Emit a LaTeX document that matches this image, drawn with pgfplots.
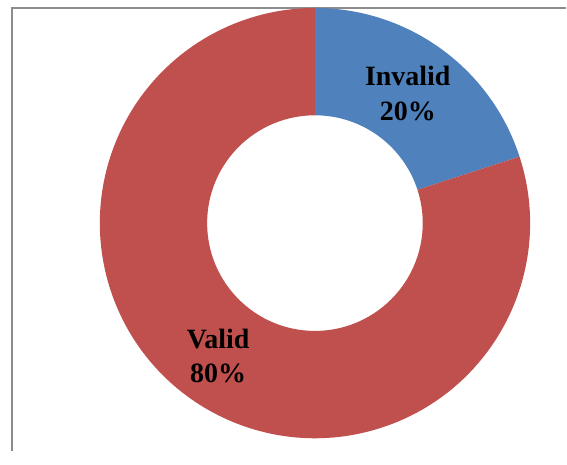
\documentclass[border=0pt]{standalone}
\usepackage{pgfplots}
\pgfplotsset{compat=1.18}
\usepackage{pgfplotstable}
\usepackage{fontspec}
\setmainfont{Liberation Serif}
\definecolor{invblue}{HTML}{4F81BD}
\definecolor{valred}{HTML}{C0504D}
\definecolor{framegray}{HTML}{8C8C8C}
\pgfplotstableread{
label value
Invalid 20
Valid 80
}\donutdata

\begin{document}
\begin{tikzpicture}
\pgfplotstablegetelem{0}{value}\of\donutdata \pgfmathsetmacro{\vA}{\pgfplotsretval}
\pgfplotstablegetelem{1}{value}\of\donutdata \pgfmathsetmacro{\vB}{\pgfplotsretval}
\pgfmathsetmacro{\tot}{\vA+\vB}
\pgfmathsetmacro{\aA}{90-\vA/\tot*360}
\pgfmathsetmacro{\aB}{\aA-\vB/\tot*360}
\begin{axis}[scale only axis, width=567pt, height=452pt,
  xmin=0, xmax=567, ymin=0, ymax=452, hide axis, clip=false]
\path (axis cs:0,0) rectangle (axis cs:567,452);
\draw[framegray, line width=2pt] (axis cs:11.7,0) -- (axis cs:11.7,444.3) -- (axis cs:567,444.3);
\begin{scope}[shift={(axis cs:315.5,228.5)}]
\fill[invblue] (90:215.5pt) arc[start angle=90, end angle=\aA, radius=215.5pt]
  -- (\aA:108pt) arc[start angle=\aA, end angle=90, radius=108pt] -- cycle;
\fill[valred] (\aA:215.5pt) arc[start angle=\aA, end angle=\aB, radius=215.5pt]
  -- (\aB:108pt) arc[start angle=\aB, end angle=\aA, radius=108pt] -- cycle;
\end{scope}
\node[anchor=base, inner sep=0pt, font=\fontsize{28}{34}\selectfont\bfseries] at (axis cs:408.5,366) {Invalid};
\node[anchor=base, inner sep=0pt, font=\fontsize{28}{34}\selectfont\bfseries] at (axis cs:408.5,331) {20\%};
\node[anchor=base, inner sep=0pt, font=\fontsize{28}{34}\selectfont\bfseries] at (axis cs:218.5,103) {Valid};
\node[anchor=base, inner sep=0pt, font=\fontsize{28}{34}\selectfont\bfseries] at (axis cs:218.5,69) {80\%};
\end{axis}
\end{tikzpicture}
\end{document}
